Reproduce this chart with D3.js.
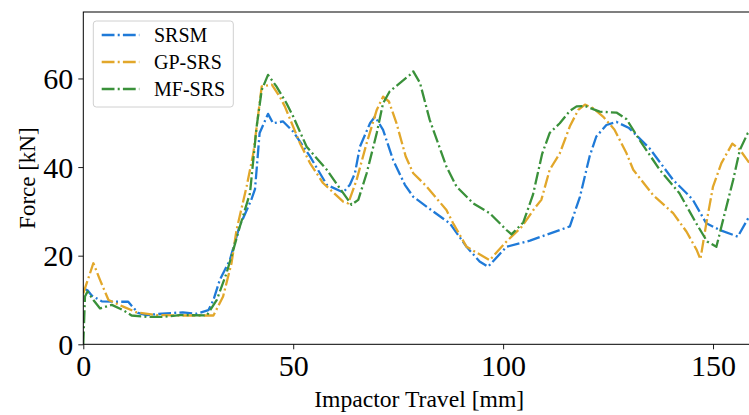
<!DOCTYPE html>
<html>
<head>
<meta charset="utf-8">
<script src="https://cdn.jsdelivr.net/npm/d3@7"></script>
<style>
  html, body { margin: 0; padding: 0; background: #fff; }
  svg { display: block; }
  text { font-family: "Liberation Serif", "DejaVu Serif", serif; fill: #000; }
</style>
</head>
<body>
<svg id="chart" width="749" height="415"></svg>
<script>
// ---- data ----
const seriesNames = ["SRSM", "GP-SRS", "MF-SRS"];
const seriesColors = ["#1f7ad8", "#e2a72a", "#3a913a"];

const srsmX = [0, 1, 2, 4.4, 8, 10.7, 13, 15, 19.8, 23.7, 27, 29.8, 31, 32.5, 34.9, 37.2, 40, 40.9, 42, 44, 45.2, 47.6, 50, 54, 58, 61.9, 63.5, 64.7, 65.9, 68.3, 69.5, 71.4, 73.8, 76.6, 78.6, 83.3, 87.3, 91.3, 94.4, 96.4, 100.8, 106.4, 115.9, 118.3, 120.6, 122.2, 124.6, 127, 130, 134.9, 140.5, 143.7, 145.2, 148.4, 151.6, 155.9, 158.4, 160];
const srsmY = [12.6, 12.2, 11, 9.7, 9.6, 9.6, 7.1, 6.6, 7.0, 7.2, 6.9, 7.7, 10, 14.5, 19, 26.6, 32.6, 35, 47.7, 52, 49.9, 50.3, 48, 42.4, 36, 34.3, 36, 38.6, 44.6, 49.9, 51.4, 48.4, 41.6, 36, 33.3, 30, 27.3, 22, 18.7, 17.5, 22, 23.4, 26.6, 33.3, 42.4, 46.9, 49.5, 50.2, 48.8, 44.2, 37.1, 34.1, 32.6, 27.3, 25.8, 24.3, 28.5, 31];

const gpX = [0, 2.4, 4, 6, 9.5, 12.7, 17.5, 23, 27, 31, 33.3, 35.3, 36.5, 38.9, 40.5, 42.5, 44.9, 46.8, 48, 51.6, 54, 57.1, 61.9, 63.1, 65.1, 67.5, 69.9, 71.4, 72.8, 74.6, 76.8, 78.6, 81.8, 86.5, 88.1, 91.3, 96.8, 100.6, 104.4, 107.5, 109.1, 111.1, 113.5, 115.9, 117.9, 119.5, 121.4, 123.8, 126.5, 129.4, 131, 135.7, 140.5, 143.7, 146.1, 147, 148.4, 150, 152, 154.6, 156.4, 158.3, 160];
const gpY = [11.5, 18.3, 14.5, 10, 8.5, 7.2, 6.6, 6.5, 6.5, 6.5, 10.8, 18.3, 25.8, 35.6, 43.1, 58.2, 58.6, 55.9, 53.7, 45.4, 40.9, 36.4, 32.2, 31.8, 37.1, 45.4, 52.9, 55.9, 54.8, 49.9, 42.4, 38.6, 35.6, 30.3, 27.3, 22, 19, 23, 26.5, 30.7, 32.6, 39.4, 43.1, 49.2, 52.9, 54.1, 53.3, 51.4, 48.5, 43.1, 39.4, 33.7, 29.6, 25.4, 21.3, 19.2, 27.3, 35.6, 40.9, 45.3, 43.9, 41.4, 39];

const mfX = [0, 0.4, 1, 2.4, 4, 6.8, 9.5, 11.5, 15.1, 19, 23, 29.4, 31.8, 34.1, 35.7, 37.3, 39.7, 41.3, 42.5, 44, 46, 48.4, 50, 53.2, 58, 61.1, 63.9, 65.5, 67.5, 69.9, 71.4, 73, 77.8, 78.6, 80.2, 82.5, 86.5, 88.9, 92.9, 96.8, 100.8, 102, 104.8, 107.1, 109.3, 111.1, 113.5, 115.9, 117.5, 119.5, 123, 127, 129.4, 132.5, 137.3, 142, 146, 148.6, 150.8, 152.8, 154.8, 156.4, 158.3, 160];
const mfY = [0, 10.8, 11.9, 10, 8.1, 8.9, 7.7, 6.5, 6.2, 6.2, 6.6, 6.5, 10, 16, 21.2, 26.6, 34.1, 49.2, 57.4, 60.8, 58.2, 54.4, 51.4, 44.6, 39.4, 35.2, 31.5, 32.6, 38.6, 47.7, 54.4, 57.1, 60.8, 61.6, 59, 50.7, 40.1, 35.6, 31.8, 29.6, 25.8, 24.8, 27.5, 33.7, 43, 47.7, 49.9, 52.7, 53.7, 53.8, 52.5, 52.3, 50.8, 46.1, 39.4, 34.1, 27.3, 23.2, 22, 29.6, 37.1, 43.9, 47.7, 49];

const xTicks = [0, 50, 100, 150];
const yTicks = [0, 20, 40, 60];
const xDomain = [0, 160];
const yDomain = [0, 75];
const xLabel = "Impactor Travel [mm]";
const yLabel = "Force [kN]";

// ---- layout ----
const svg = d3.select("#chart");
const margin = { left: 83.3, top: 12, right: 755, bottom: 344.3 };

const x = d3.scaleLinear().domain(xDomain).range([margin.left, margin.right]);
const y = d3.scaleLinear().domain(yDomain).range([margin.bottom, margin.top]);

const series = [
  { name: seriesNames[0], color: seriesColors[0], xs: srsmX, ys: srsmY },
  { name: seriesNames[1], color: seriesColors[1], xs: gpX, ys: gpY },
  { name: seriesNames[2], color: seriesColors[2], xs: mfX, ys: mfY }
];

const dash = "12.8,3.2,2,3.2";
const lw = 2.3;

// clip
svg.append("clipPath").attr("id", "clip")
  .append("rect")
  .attr("x", margin.left).attr("y", margin.top)
  .attr("width", margin.right - margin.left)
  .attr("height", margin.bottom - margin.top);

const line = d3.line().x(d => x(d[0])).y(d => y(d[1]));

const g = svg.append("g").attr("clip-path", "url(#clip)");
series.forEach(s => {
  const pts = s.xs.map((v, i) => [v, s.ys[i]]);
  g.append("path")
    .datum(pts)
    .attr("d", line)
    .attr("fill", "none")
    .attr("stroke", s.color)
    .attr("stroke-width", lw)
    .attr("stroke-dasharray", dash)
    .attr("stroke-linejoin", "round");
});

// axes
const xAxis = d3.axisBottom(x).tickValues(xTicks).tickSize(5).tickPadding(5).tickFormat(d3.format("d"));
const yAxis = d3.axisLeft(y).tickValues(yTicks).tickSize(5).tickPadding(5).tickFormat(d3.format("d"));

const gx = svg.append("g").attr("transform", `translate(0,${margin.bottom})`).call(xAxis);
const gy = svg.append("g").attr("transform", `translate(${margin.left},0)`).call(yAxis);
[gx, gy].forEach(a => {
  a.select(".domain").remove();
  a.selectAll(".tick line").attr("stroke", "#000").attr("stroke-width", 0.9);
  a.selectAll(".tick text")
    .style("font-family", '"Liberation Serif", serif')
    .style("font-size", "30px")
    .attr("fill", "#000");
});
gy.selectAll(".tick text").attr("dy", "0.34em");

// frame
svg.append("rect")
  .attr("x", margin.left).attr("y", margin.top)
  .attr("width", margin.right - margin.left)
  .attr("height", margin.bottom - margin.top)
  .attr("fill", "none").attr("stroke", "#000").attr("stroke-width", 1);

// axis labels
svg.append("text")
  .attr("x", (margin.left + margin.right) / 2)
  .attr("y", 407)
  .attr("text-anchor", "middle")
  .style("font-size", "23px")
  .attr("textLength", 210)
  .attr("lengthAdjust", "spacingAndGlyphs")
  .text(xLabel);

svg.append("text")
  .attr("transform", `translate(35,${(margin.top + margin.bottom) / 2}) rotate(-90)`)
  .attr("text-anchor", "middle")
  .style("font-size", "23px")
  .text(yLabel);

// legend
const lg = svg.append("g");
lg.append("rect")
  .attr("x", 93.3).attr("y", 21)
  .attr("width", 140).attr("height", 86)
  .attr("rx", 3).attr("ry", 3)
  .attr("fill", "#fff").attr("fill-opacity", 0.8)
  .attr("stroke", "#d0d0d0").attr("stroke-width", 1);

const rowY = [35, 62, 89];
series.forEach((s, i) => {
  lg.append("line")
    .attr("x1", 101.7).attr("x2", 139.3)
    .attr("y1", rowY[i]).attr("y2", rowY[i])
    .attr("stroke", s.color)
    .attr("stroke-width", lw)
    .attr("stroke-dasharray", dash);
  lg.append("text")
    .attr("x", 154)
    .attr("y", rowY[i] + 7.3)
    .style("font-size", "20px")
    .text(s.name);
});
</script>
</body>
</html>
